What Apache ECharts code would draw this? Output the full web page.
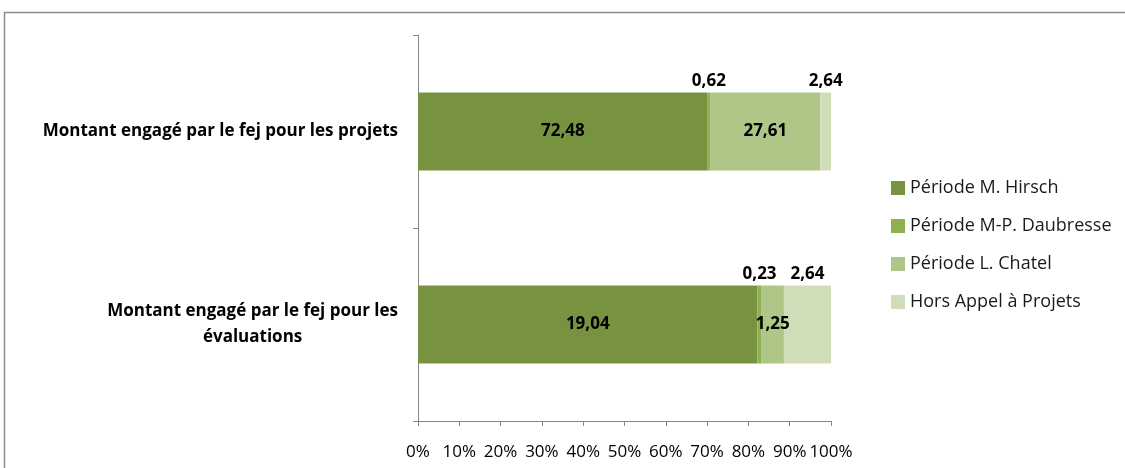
<!DOCTYPE html>
<html>
<head>
<meta charset="utf-8">
<script src="https://cdn.jsdelivr.net/npm/echarts@6/dist/echarts.min.js"></script>
<style>
    html, body { margin: 0; padding: 0; background: #fff; }
    #chart { width: 1125px; height: 468px; }
</style>
</head>
<body>
<div id="chart"></div>
<script>
    // montants par période (valeurs affichées), empilés en 100 %
    var categories = ['Montant engagé par le fej pour les projets', 'Montant engagé par le fej pour les\névaluations'];
    var seriesNames = ['Période M. Hirsch', 'Période M-P. Daubresse', 'Période L. Chatel', 'Hors Appel à Projets'];
    var hirsch = [72.48, 19.04];
    var daubresse = [0.62, 0.23];
    var chatel = [27.61, 1.25];
    var hors = [2.64, 2.64];
    var xTicks = [0, 10, 20, 30, 40, 50, 60, 70, 80, 90, 100];

    var colors = ['#78933f', '#8fb04f', '#aec688', '#cfddb8'];
    var labelPos = ['inside', 'top', 'inside', 'top'];
    var raw = [hirsch, daubresse, chatel, hors];

    var totals = categories.map(function (c, i) {
        return raw.reduce(function (s, arr) { return s + arr[i]; }, 0);
    });

    var chart = echarts.init(document.getElementById('chart'));

    chart.setOption({
        animation: false,
        textStyle: { fontFamily: 'Open Sans' },
        graphic: [{
            type: 'rect',
            shape: { x: 4.5, y: 12.5, width: 1200, height: 500 },
            style: { fill: 'none', stroke: '#8c8c8c', lineWidth: 1.5 },
            silent: true
        }],
        legend: {
            orient: 'vertical',
            left: 886,
            top: 174,
            itemWidth: 14,
            itemHeight: 14,
            itemGap: 20,
            icon: 'rect',
            textStyle: { fontSize: 18, color: '#1a1a1a', fontFamily: 'Open Sans' },
            data: seriesNames
        },
        grid: { left: 418, right: 294, top: 35, bottom: 47 },
        xAxis: {
            type: 'value',
            min: xTicks[0],
            max: xTicks[xTicks.length - 1],
            interval: 10,
            axisLine: { show: true, lineStyle: { color: '#868686' } },
            axisTick: { show: true, length: 5, lineStyle: { color: '#868686' } },
            splitLine: { show: false },
            axisLabel: {
                formatter: '{value}%',
                fontSize: 17,
                color: '#000',
                fontFamily: 'Open Sans',
                margin: 23
            }
        },
        yAxis: {
            type: 'category',
            inverse: true,
            data: categories,
            axisLine: { show: true, lineStyle: { color: '#868686' } },
            axisTick: { show: true, length: 5, alignWithLabel: false, lineStyle: { color: '#868686' } },
            axisLabel: {
                margin: 20,
                formatter: function (v) {
                    return v.split('\n').map(function (l) { return '{a|' + l + '}'; }).join('\n');
                },
                rich: {
                    a: { fontSize: 17, fontWeight: 'bold', color: '#000', align: 'center', lineHeight: 26, fontFamily: 'Open Sans' }
                }
            }
        },
        series: seriesNames.map(function (name, k) {
            return {
                name: name,
                type: 'bar',
                stack: 'total',
                barWidth: 78,
                itemStyle: { color: colors[k] },
                label: {
                    show: true,
                    position: labelPos[k],
                    distance: 3,
                    fontSize: 17,
                    fontWeight: 'bold',
                    color: '#000',
                    fontFamily: 'Open Sans',
                    formatter: function (p) {
                        return raw[k][p.dataIndex].toFixed(2).replace('.', ',');
                    }
                },
                data: raw[k].map(function (v, i) { return v / totals[i] * 100; })
            };
        })
    });
</script>
</body>
</html>
